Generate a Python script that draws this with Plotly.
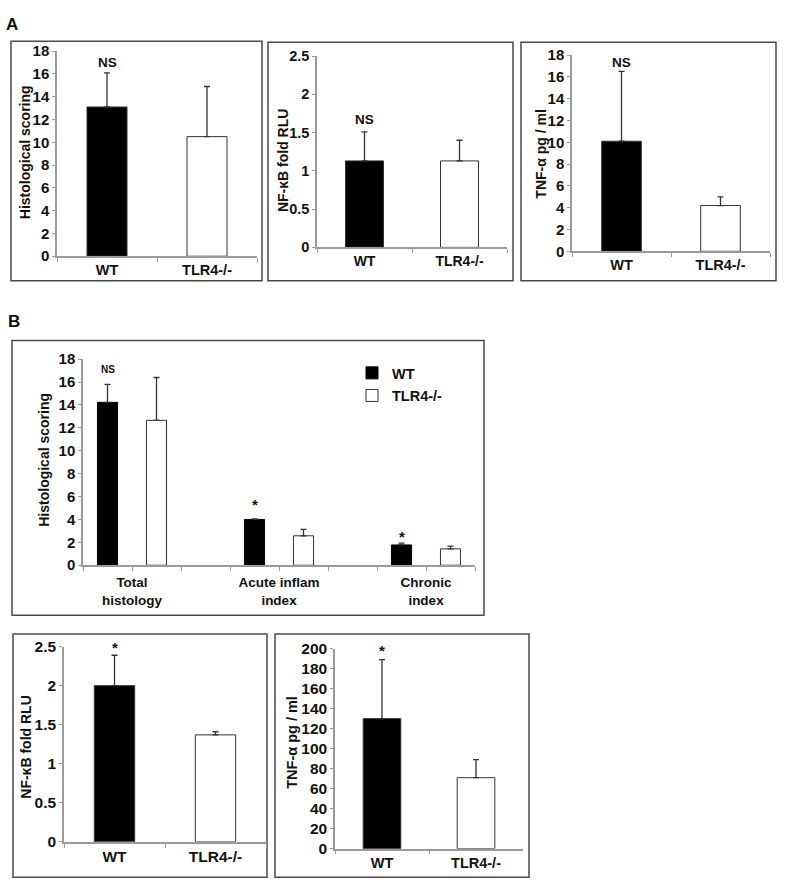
import plotly.graph_objects as go

W, H = 786, 894
FONT = "Liberation Sans, Arial, sans-serif"
TXT = "#111111"

# ---------------- data ----------------
genotypes = ["WT", "TLR4-/-"]
bar_colors = ["#000000", "#ffffff"]

# Panel A
a_hist = [13.1, 10.5]
a_hist_err = [3.0, 4.4]
a_nfkb = [1.13, 1.13]
a_nfkb_err = [0.38, 0.27]
a_tnf = [10.1, 4.2]
a_tnf_err = [6.4, 0.8]
a_sig = "NS"

# Panel B (histology sub-scores)
b_groups = ["Total<br>histology", "Acute inflam<br>index", "Chronic<br>index"]
b_wt = [14.23, 4.0, 1.77]
b_wt_err = [1.57, 0.05, 0.16]
b_ko = [12.66, 2.57, 1.43]
b_ko_err = [3.74, 0.57, 0.23]
b_sig = ["NS", "*", "*"]

# Panel B (lower)
b_nfkb = [2.0, 1.37]
b_nfkb_err = [0.39, 0.04]
b_tnf = [130, 71]
b_tnf_err = [59, 18]
b_low_sig = "*"

# ---------------- helpers ----------------
def px(x):
    return x / W

def py(y):
    return 1 - y / H

def dom_x(a, b):
    return [px(a), px(b)]

def dom_y(top, bottom):
    return [py(bottom), py(top)]

AX_COL = "#9a9a9a"

def xaxis_cfg(domain, anchor, size, **kw):
    d = dict(domain=domain, anchor=anchor, showgrid=False, zeroline=False,
             showline=True, linecolor=AX_COL, linewidth=1.5,
             ticks="outside", ticklen=4, tickcolor=AX_COL, tickwidth=1,
             tickfont=dict(family=FONT, size=size, color=TXT, weight="bold"))
    d.update(kw)
    return d

def yaxis_cfg(domain, anchor, rng, dtick, size=15, **kw):
    d = dict(domain=domain, anchor=anchor, range=rng, dtick=dtick, showgrid=False,
             zeroline=False, showline=True, linecolor=AX_COL, linewidth=1.5,
             ticks="outside", ticklen=3, tickcolor=AX_COL, tickwidth=1,
             tickfont=dict(family=FONT, size=size, color=TXT, weight="bold"))
    d.update(kw)
    return d

def err(vals):
    return dict(type="data", array=vals, arrayminus=[0] * len(vals), symmetric=False,
                color="#333333", thickness=1.3, width=3)

fig = go.Figure()

# simple two-bar panels
simple = [
    ("x", "y", a_hist, a_hist_err),
    ("x2", "y2", a_nfkb, a_nfkb_err),
    ("x3", "y3", a_tnf, a_tnf_err),
    ("x5", "y5", b_nfkb, b_nfkb_err),
    ("x6", "y6", b_tnf, b_tnf_err),
]
for xa, ya, vals, errs in simple:
    fig.add_trace(go.Bar(
        x=genotypes, y=vals, xaxis=xa, yaxis=ya, showlegend=False,
        marker=dict(color=bar_colors, line=dict(color="#333333", width=1)),
        error_y=err(errs), hoverinfo="x+y"))

# grouped histology panel (numeric positions: WT then TLR4 within each group)
wt_x = [3 * i + 0.5 for i in range(len(b_groups))]
ko_x = [3 * i + 1.5 for i in range(len(b_groups))]
fig.add_trace(go.Bar(
    x=wt_x, y=b_wt, width=0.41, name="WT", xaxis="x4", yaxis="y4",
    marker=dict(color="#000000", line=dict(color="#000000", width=1)),
    error_y=err(b_wt_err), legend="legend"))
fig.add_trace(go.Bar(
    x=ko_x, y=b_ko, width=0.41, name="TLR4-/-", xaxis="x4", yaxis="y4",
    marker=dict(color="#ffffff", line=dict(color="#333333", width=1)),
    error_y=err(b_ko_err), legend="legend2"))

tick_pos = list(range(3 * len(b_groups) + 0))
tick_txt = [""] * len(tick_pos)
for i, g in enumerate(b_groups):
    tick_txt[3 * i + 1] = g

layout = dict(
    width=W, height=H, margin=dict(l=0, r=0, t=0, b=0),
    paper_bgcolor="white", plot_bgcolor="white",
    barmode="overlay", bargap=0.6,
    font=dict(family=FONT, color=TXT),
    xaxis=xaxis_cfg(dom_x(57, 257), "y", 14.5, tickson="boundaries"),
    yaxis=yaxis_cfg(dom_y(43, 252), "x", [0, 18], 2),
    xaxis2=xaxis_cfg(dom_x(317, 507), "y2", 14, tickson="boundaries"),
    yaxis2=yaxis_cfg(dom_y(48, 243), "x2", [0, 2.5], 0.5, size=14.5),
    xaxis3=xaxis_cfg(dom_x(572, 770), "y3", 14.5, tickson="boundaries"),
    yaxis3=yaxis_cfg(dom_y(47, 247), "x3", [0, 18], 2),
    xaxis4=xaxis_cfg(dom_x(83, 475), "y4", 13.5, range=[0, 8],
                     tickmode="array", tickvals=tick_pos + [8], ticktext=tick_txt + [""]),
    yaxis4=yaxis_cfg(dom_y(357, 567), "x4", [0, 18], 2),
    xaxis5=xaxis_cfg(dom_x(64, 266), "y5", 15.5, tickson="boundaries"),
    yaxis5=yaxis_cfg(dom_y(650, 849), "x5", [0, 2.5], 0.5, size=15.5),
    xaxis6=xaxis_cfg(dom_x(335, 523), "y6", 14.5, tickson="boundaries"),
    yaxis6=yaxis_cfg(dom_y(652, 856), "x6", [0, 200], 20, size=15.5),
    showlegend=True,
    legend=dict(x=px(352), y=py(371), xanchor="left", yanchor="middle",
                bgcolor="rgba(0,0,0,0)",
                font=dict(family=FONT, size=14.5, color=TXT, weight="bold")),
    legend2=dict(x=px(352), y=py(394), xanchor="left", yanchor="middle",
                 bgcolor="rgba(0,0,0,0)",
                 font=dict(family=FONT, size=14.5, color=TXT, weight="bold")),
)

# panel frames
frames = [(11, 33, 262, 277), (268, 34, 513, 277), (521, 34, 776, 277),
          (12, 338, 484, 618), (13, 637, 267, 885), (275, 637, 529, 885)]
shapes = []
for x0, y0, x1, y1 in frames:
    shapes.append(dict(type="rect", xref="paper", yref="paper",
                       x0=px(x0), x1=px(x1), y0=py(y1), y1=py(y0),
                       line=dict(color="#4a4a4a", width=1.5), fillcolor="rgba(0,0,0,0)",
                       layer="below"))
layout["shapes"] = shapes

ann = []

def bold(size):
    return dict(family=FONT, size=size, color=TXT, weight="bold")

# panel letters
ann.append(dict(text="A", x=px(12), y=py(16), xref="paper", yref="paper",
                showarrow=False, font=bold(17), xanchor="center", yanchor="middle"))
ann.append(dict(text="B", x=px(14), y=py(319), xref="paper", yref="paper",
                showarrow=False, font=bold(17), xanchor="center", yanchor="middle"))

# y-axis titles
ytitles = [("Histological scoring", 25, 146, 14),
           ("NF-\u03baB fold RLU", 283, 155, 14),
           ("TNF-\u03b1 pg / ml", 541, 148.5, 14),
           ("Histological scoring", 44, 459.5, 14),
           ("NF-\u03baB fold RLU", 26, 752, 14),
           ("TNF-\u03b1 pg / ml", 292, 748, 14.5)]
for t, cx, cy, s in ytitles:
    ann.append(dict(text=t, x=px(cx), y=py(cy), xref="paper", yref="paper",
                    textangle=-90, showarrow=False, font=bold(s),
                    xanchor="center", yanchor="middle"))

# significance marks
sig_a = [("x", "y", a_hist, a_hist_err, 10), ("x2", "y2", a_nfkb, a_nfkb_err, 12),
         ("x3", "y3", a_tnf, a_tnf_err, 9)]
for xa, ya, vals, errs, sh in sig_a:
    ann.append(dict(text=a_sig, x=genotypes[0], y=vals[0] + errs[0], xref=xa, yref=ya,
                    showarrow=False, font=bold(13.5), yanchor="middle", yshift=sh))

b_shift = [15, 14, 7]
b_size = [10, 15, 15]
for i, s in enumerate(b_sig):
    ann.append(dict(text=s, x=wt_x[i], y=b_wt[i] + b_wt_err[i], xref="x4", yref="y4",
                    showarrow=False, font=bold(b_size[i]), yanchor="middle",
                    yshift=b_shift[i]))

for xa, ya, vals, errs, sh in [("x5", "y5", b_nfkb, b_nfkb_err, 8),
                               ("x6", "y6", b_tnf, b_tnf_err, 9)]:
    ann.append(dict(text=b_low_sig, x=genotypes[0], y=vals[0] + errs[0], xref=xa, yref=ya,
                    showarrow=False, font=bold(15), yanchor="middle", yshift=sh))

layout["annotations"] = ann
fig.update_layout(**layout)
# remove the default page margin so the figure fills the 786x894 window exactly
fig.write_html("out.html", config={"displayModeBar": False},
               post_script="document.body.style.margin='0px';"
                           "document.body.style.overflow='hidden';")
